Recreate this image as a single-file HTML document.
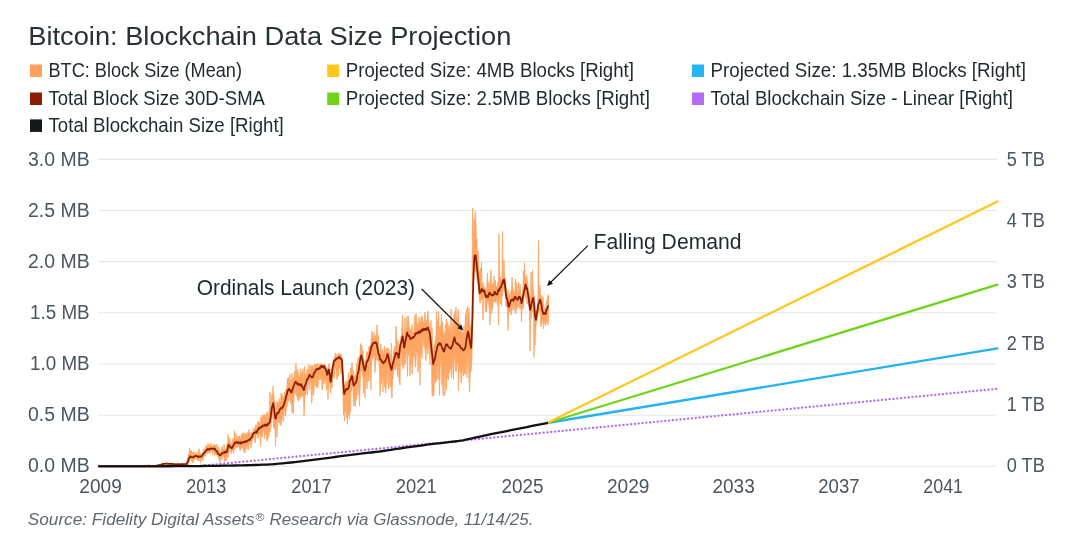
<!DOCTYPE html><html><head><meta charset="utf-8"><title>Bitcoin: Blockchain Data Size Projection</title>
<style>html,body{margin:0;padding:0;background:#fff}svg{display:block;will-change:transform}text{font-family:"Liberation Sans",sans-serif}</style></head><body>
<svg width="1080" height="544" viewBox="0 0 1080 544">
<rect width="1080" height="544" fill="#fff"/>
<text x="28.3" y="45.2" font-size="26.6" fill="#273237" textLength="483" lengthAdjust="spacingAndGlyphs">Bitcoin: Blockchain Data Size Projection</text>
<rect x="30" y="64.5" width="12" height="12.5" fill="#ffa15c"/>
<text x="48.5" y="76.8" font-size="19.3" fill="#1f2a2e" textLength="193.5" lengthAdjust="spacingAndGlyphs">BTC: Block Size (Mean)</text>
<rect x="30" y="92.5" width="12" height="12.5" fill="#8c1d04"/>
<text x="48.5" y="104.8" font-size="19.3" fill="#1f2a2e" textLength="216.5" lengthAdjust="spacingAndGlyphs">Total Block Size 30D-SMA</text>
<rect x="30" y="119.4" width="12" height="12.5" fill="#14181a"/>
<text x="48.5" y="131.9" font-size="19.3" fill="#1f2a2e" textLength="235.3" lengthAdjust="spacingAndGlyphs">Total Blockchain Size [Right]</text>
<rect x="327.2" y="64.5" width="12" height="12.5" fill="#ffc61e"/>
<text x="345.8" y="76.8" font-size="19.3" fill="#1f2a2e" textLength="288.2" lengthAdjust="spacingAndGlyphs">Projected Size: 4MB Blocks [Right]</text>
<rect x="327.2" y="92.5" width="12" height="12.5" fill="#6fd318"/>
<text x="345.8" y="104.8" font-size="19.3" fill="#1f2a2e" textLength="304.2" lengthAdjust="spacingAndGlyphs">Projected Size: 2.5MB Blocks [Right]</text>
<rect x="692" y="64.5" width="12" height="12.5" fill="#27b4f5"/>
<text x="710.5" y="76.8" font-size="19.3" fill="#1f2a2e" textLength="315.5" lengthAdjust="spacingAndGlyphs">Projected Size: 1.35MB Blocks [Right]</text>
<rect x="692" y="92.5" width="12" height="12.5" fill="#b06cf5"/>
<text x="710.5" y="104.8" font-size="19.3" fill="#1f2a2e" textLength="302.5" lengthAdjust="spacingAndGlyphs">Total Blockchain Size - Linear [Right]</text>
<line x1="98.5" x2="997" y1="159.4" y2="159.4" stroke="#e6e6e6" stroke-width="1.1"/>
<line x1="98.5" x2="997" y1="210.5" y2="210.5" stroke="#e6e6e6" stroke-width="1.1"/>
<line x1="98.5" x2="997" y1="261.6" y2="261.6" stroke="#e6e6e6" stroke-width="1.1"/>
<line x1="98.5" x2="997" y1="312.8" y2="312.8" stroke="#e6e6e6" stroke-width="1.1"/>
<line x1="98.5" x2="997" y1="364.0" y2="364.0" stroke="#e6e6e6" stroke-width="1.1"/>
<line x1="98.5" x2="997" y1="415.2" y2="415.2" stroke="#e6e6e6" stroke-width="1.1"/>
<line x1="98.5" x2="997" y1="466.2" y2="466.2" stroke="#e6e6e6" stroke-width="1.1"/>
<text x="28" y="165.6" font-size="19.9" fill="#4a5560" textLength="61.6" lengthAdjust="spacingAndGlyphs">3.0 MB</text>
<text x="28" y="216.7" font-size="19.9" fill="#4a5560" textLength="61.6" lengthAdjust="spacingAndGlyphs">2.5 MB</text>
<text x="28" y="267.8" font-size="19.9" fill="#4a5560" textLength="61.6" lengthAdjust="spacingAndGlyphs">2.0 MB</text>
<text x="30.0" y="319.0" font-size="19.9" fill="#4a5560" textLength="59.6" lengthAdjust="spacingAndGlyphs">1.5 MB</text>
<text x="30.0" y="370.2" font-size="19.9" fill="#4a5560" textLength="59.6" lengthAdjust="spacingAndGlyphs">1.0 MB</text>
<text x="28" y="421.4" font-size="19.9" fill="#4a5560" textLength="61.6" lengthAdjust="spacingAndGlyphs">0.5 MB</text>
<text x="28" y="472.4" font-size="19.9" fill="#4a5560" textLength="61.6" lengthAdjust="spacingAndGlyphs">0.0 MB</text>
<text x="1006.8" y="165.6" font-size="19.9" fill="#4a5560" textLength="38" lengthAdjust="spacingAndGlyphs">5 TB</text>
<text x="1006.8" y="227.0" font-size="19.9" fill="#4a5560" textLength="38" lengthAdjust="spacingAndGlyphs">4 TB</text>
<text x="1006.8" y="288.3" font-size="19.9" fill="#4a5560" textLength="38" lengthAdjust="spacingAndGlyphs">3 TB</text>
<text x="1006.8" y="349.7" font-size="19.9" fill="#4a5560" textLength="38" lengthAdjust="spacingAndGlyphs">2 TB</text>
<text x="1006.8" y="411.0" font-size="19.9" fill="#4a5560" textLength="38" lengthAdjust="spacingAndGlyphs">1 TB</text>
<text x="1006.8" y="472.4" font-size="19.9" fill="#4a5560" textLength="38" lengthAdjust="spacingAndGlyphs">0 TB</text>
<text x="79.3" y="493.1" font-size="19.9" fill="#4a5560" textLength="42.5" lengthAdjust="spacingAndGlyphs">2009</text>
<text x="186.3" y="493.1" font-size="19.9" fill="#4a5560" textLength="40.0" lengthAdjust="spacingAndGlyphs">2013</text>
<text x="291.3" y="493.1" font-size="19.9" fill="#4a5560" textLength="40.4" lengthAdjust="spacingAndGlyphs">2017</text>
<text x="395.8" y="493.1" font-size="19.9" fill="#4a5560" textLength="40.9" lengthAdjust="spacingAndGlyphs">2021</text>
<text x="501.5" y="493.1" font-size="19.9" fill="#4a5560" textLength="42.0" lengthAdjust="spacingAndGlyphs">2025</text>
<text x="607" y="493.1" font-size="19.9" fill="#4a5560" textLength="42.5" lengthAdjust="spacingAndGlyphs">2029</text>
<text x="712.5" y="493.1" font-size="19.9" fill="#4a5560" textLength="42.2" lengthAdjust="spacingAndGlyphs">2033</text>
<text x="818.3" y="493.1" font-size="19.9" fill="#4a5560" textLength="41.2" lengthAdjust="spacingAndGlyphs">2037</text>
<text x="923.3" y="493.1" font-size="19.9" fill="#4a5560" textLength="39.7" lengthAdjust="spacingAndGlyphs">2041</text>
<path d="M99.0,466.2 L99.5,466.2 L100.0,466.2 L100.5,466.2 L101.0,466.2 L101.5,466.2 L102.0,466.2 L102.5,466.2 L103.0,466.2 L103.5,466.2 L104.0,466.2 L104.5,466.2 L105.0,466.2 L105.5,466.2 L106.0,466.2 L106.5,466.2 L107.0,466.2 L107.5,466.2 L108.0,466.2 L108.5,466.2 L109.0,466.2 L109.5,466.2 L110.0,466.2 L110.5,466.2 L111.0,466.2 L111.5,466.2 L112.0,466.2 L112.5,466.2 L113.0,466.2 L113.5,466.2 L114.0,466.2 L114.5,466.2 L115.0,466.2 L115.5,466.2 L116.0,466.2 L116.5,466.2 L117.0,466.2 L117.5,466.2 L118.0,466.2 L118.5,466.2 L119.0,466.2 L119.5,466.2 L120.0,466.2 L120.5,466.2 L121.0,466.2 L121.5,466.2 L122.0,466.2 L122.5,466.2 L123.0,466.2 L123.5,466.2 L124.0,466.2 L124.5,466.2 L125.0,466.2 L125.5,466.2 L126.0,466.2 L126.5,466.2 L127.0,466.2 L127.5,466.2 L128.0,466.2 L128.5,466.2 L129.0,466.2 L129.5,466.2 L130.0,466.2 L130.5,466.2 L131.0,466.2 L131.5,466.2 L132.0,466.2 L132.5,466.2 L133.0,466.2 L133.5,466.2 L134.0,466.2 L134.5,466.2 L135.0,466.2 L135.5,466.2 L136.0,466.2 L136.5,466.2 L137.0,466.2 L137.5,466.2 L138.0,466.2 L138.5,466.2 L139.0,466.2 L139.5,466.2 L140.0,466.2 L140.5,466.2 L141.0,466.2 L141.5,466.2 L142.0,466.2 L142.5,466.2 L143.0,466.2 L143.5,466.2 L144.0,466.2 L144.5,466.2 L145.0,466.1 L145.5,466.2 L146.0,466.2 L146.5,466.2 L147.0,466.1 L147.5,466.2 L148.0,466.2 L148.5,464.0 L149.0,466.1 L149.5,466.0 L150.0,466.0 L150.5,466.2 L151.0,465.7 L151.5,466.0 L152.0,466.1 L152.5,466.0 L153.0,465.9 L153.5,465.7 L154.0,465.8 L154.5,465.6 L155.0,465.6 L155.5,465.6 L156.0,465.5 L156.5,465.5 L157.0,465.2 L157.5,465.2 L158.0,465.1 L158.5,465.1 L159.0,464.9 L159.5,464.8 L160.0,464.6 L160.5,464.7 L161.0,464.4 L161.5,464.1 L162.0,464.1 L162.5,463.8 L163.0,463.8 L163.5,463.4 L164.0,463.7 L164.5,463.7 L165.0,463.1 L165.5,463.5 L166.0,463.6 L166.5,463.4 L167.0,463.1 L167.5,463.4 L168.0,463.3 L168.5,463.5 L169.0,463.6 L169.5,463.3 L170.0,463.6 L170.5,463.4 L171.0,463.4 L171.5,463.3 L172.0,463.4 L172.5,463.7 L173.0,463.7 L173.5,463.9 L174.0,464.0 L174.5,464.1 L175.0,464.2 L175.5,464.2 L176.0,464.2 L176.5,463.8 L177.0,463.6 L177.5,463.7 L178.0,463.7 L178.5,463.9 L179.0,463.6 L179.5,464.0 L180.0,464.1 L180.5,464.0 L181.0,463.9 L181.5,464.1 L182.0,464.1 L182.5,464.0 L183.0,463.9 L183.5,463.9 L184.0,463.6 L184.5,463.7 L185.0,463.0 L185.5,463.9 L186.0,463.7 L186.5,463.6 L187.0,461.3 L187.5,458.6 L188.0,456.6 L188.5,454.1 L189.0,456.3 L189.5,447.9 L190.0,454.9 L190.5,450.4 L191.0,453.6 L191.5,450.5 L192.0,453.0 L192.5,455.5 L193.0,452.2 L193.5,454.2 L194.0,451.2 L194.5,454.6 L195.0,454.0 L195.5,453.0 L196.0,453.1 L196.5,452.2 L197.0,454.5 L197.5,453.6 L198.0,454.6 L198.5,450.2 L199.0,448.9 L199.5,452.2 L200.0,454.9 L200.5,453.1 L201.0,455.2 L201.5,454.4 L202.0,454.0 L202.5,453.4 L203.0,451.5 L203.5,451.0 L204.0,448.5 L204.5,449.0 L205.0,450.1 L205.5,449.6 L206.0,445.5 L206.5,445.5 L207.0,446.0 L207.5,447.6 L208.0,443.2 L208.5,444.7 L209.0,447.5 L209.5,445.6 L210.0,444.5 L210.5,446.4 L211.0,443.1 L211.5,446.0 L212.0,446.6 L212.5,445.7 L213.0,446.5 L213.5,444.7 L214.0,444.8 L214.5,444.3 L215.0,446.1 L215.5,444.9 L216.0,447.0 L216.5,449.0 L217.0,443.9 L217.5,449.6 L218.0,447.6 L218.5,447.2 L219.0,449.4 L219.5,449.5 L220.0,452.8 L220.5,451.8 L221.0,451.7 L221.5,449.6 L222.0,446.4 L222.5,449.9 L223.0,449.4 L223.5,449.5 L224.0,444.5 L224.5,447.9 L225.0,449.6 L225.5,450.6 L226.0,448.8 L226.5,447.3 L227.0,443.5 L227.5,444.1 L228.0,434.5 L228.5,441.3 L229.0,441.6 L229.5,441.0 L230.0,438.2 L230.5,444.7 L231.0,443.7 L231.5,443.2 L232.0,443.6 L232.5,441.6 L233.0,438.3 L233.5,441.2 L234.0,439.4 L234.5,430.5 L235.0,439.8 L235.5,438.3 L236.0,433.6 L236.5,438.7 L237.0,440.2 L237.5,437.3 L238.0,436.1 L238.5,436.9 L239.0,439.8 L239.5,436.2 L240.0,436.2 L240.5,439.2 L241.0,438.6 L241.5,433.6 L242.0,435.1 L242.5,436.5 L243.0,432.6 L243.5,436.5 L244.0,432.9 L244.5,438.7 L245.0,434.5 L245.5,433.4 L246.0,433.4 L246.5,438.8 L247.0,432.2 L247.5,433.8 L248.0,434.6 L248.5,430.5 L249.0,429.4 L249.5,436.2 L250.0,432.9 L250.5,434.1 L251.0,435.6 L251.5,432.5 L252.0,433.0 L252.5,432.9 L253.0,432.4 L253.5,428.7 L254.0,429.7 L254.5,429.1 L255.0,427.4 L255.5,428.0 L256.0,424.4 L256.5,427.9 L257.0,428.4 L257.5,423.5 L258.0,421.6 L258.5,421.3 L259.0,426.0 L259.5,422.2 L260.0,424.2 L260.5,421.8 L261.0,417.0 L261.5,423.3 L262.0,415.1 L262.5,416.3 L263.0,421.0 L263.5,414.7 L264.0,419.2 L264.5,415.5 L265.0,414.2 L265.5,415.1 L266.0,417.6 L266.5,421.1 L267.0,411.7 L267.5,416.9 L268.0,419.1 L268.5,414.2 L269.0,411.8 L269.5,410.5 L270.0,392.0 L270.5,411.6 L271.0,407.1 L271.5,400.3 L272.0,393.7 L272.5,402.2 L273.0,386.0 L273.5,392.9 L274.0,396.7 L274.5,404.9 L275.0,401.4 L275.5,414.0 L276.0,414.3 L276.5,405.6 L277.0,401.8 L277.5,403.5 L278.0,402.8 L278.5,405.9 L279.0,398.6 L279.5,405.8 L280.0,402.4 L280.5,404.7 L281.0,392.9 L281.5,395.7 L282.0,394.7 L282.5,396.3 L283.0,397.1 L283.5,396.7 L284.0,397.9 L284.5,392.0 L285.0,396.7 L285.5,389.4 L286.0,392.1 L286.5,391.1 L287.0,385.2 L287.5,378.1 L288.0,385.4 L288.5,377.5 L289.0,383.8 L289.5,381.7 L290.0,374.4 L290.5,385.8 L291.0,386.8 L291.5,385.1 L292.0,373.0 L292.5,380.4 L293.0,379.3 L293.5,377.8 L294.0,379.0 L294.5,371.3 L295.0,378.3 L295.5,371.5 L296.0,363.7 L296.5,375.3 L297.0,375.0 L297.5,369.1 L298.0,371.9 L298.5,376.5 L299.0,375.5 L299.5,377.0 L300.0,379.2 L300.5,368.7 L301.0,374.1 L301.5,376.3 L302.0,372.2 L302.5,371.2 L303.0,368.7 L303.5,378.8 L304.0,377.2 L304.5,366.5 L305.0,381.2 L305.5,374.2 L306.0,373.6 L306.5,377.8 L307.0,368.9 L307.5,374.1 L308.0,374.4 L308.5,371.8 L309.0,364.5 L309.5,368.4 L310.0,370.1 L310.5,372.1 L311.0,365.0 L311.5,369.8 L312.0,366.4 L312.5,365.0 L313.0,366.8 L313.5,368.8 L314.0,369.2 L314.5,364.0 L315.0,364.9 L315.5,363.9 L316.0,364.9 L316.5,365.3 L317.0,364.2 L317.5,363.7 L318.0,365.7 L318.5,364.2 L319.0,364.1 L319.5,364.3 L320.0,364.2 L320.5,363.9 L321.0,363.6 L321.5,364.2 L322.0,364.9 L322.5,364.0 L323.0,365.0 L323.5,364.9 L324.0,364.7 L324.5,364.2 L325.0,366.1 L325.5,365.7 L326.0,367.3 L326.5,370.4 L327.0,371.0 L327.5,367.6 L328.0,367.5 L328.5,365.4 L329.0,363.6 L329.5,367.9 L330.0,371.4 L330.5,373.8 L331.0,380.0 L331.5,369.3 L332.0,369.7 L332.5,365.8 L333.0,361.8 L333.5,361.5 L334.0,358.9 L334.5,356.3 L335.0,357.6 L335.5,352.9 L336.0,356.5 L336.5,354.6 L337.0,356.9 L337.5,356.5 L338.0,355.3 L338.5,353.1 L339.0,356.4 L339.5,353.1 L340.0,355.1 L340.5,356.8 L341.0,353.8 L341.5,356.9 L342.0,357.8 L342.5,366.4 L343.0,375.5 L343.5,383.1 L344.0,384.9 L344.5,387.5 L345.0,384.5 L345.5,385.5 L346.0,381.1 L346.5,386.1 L347.0,380.5 L347.5,382.4 L348.0,383.2 L348.5,372.7 L349.0,381.5 L349.5,379.2 L350.0,374.8 L350.5,367.9 L351.0,375.1 L351.5,369.2 L352.0,362.6 L352.5,371.0 L353.0,370.8 L353.5,372.7 L354.0,377.6 L354.5,377.3 L355.0,375.1 L355.5,379.2 L356.0,375.3 L356.5,363.3 L357.0,374.3 L357.5,369.1 L358.0,357.3 L358.5,366.1 L359.0,362.1 L359.5,355.3 L360.0,356.9 L360.5,343.5 L361.0,350.3 L361.5,344.9 L362.0,347.0 L362.5,356.6 L363.0,350.9 L363.5,360.9 L364.0,360.9 L364.5,360.8 L365.0,365.8 L365.5,364.0 L366.0,359.0 L366.5,351.6 L367.0,352.2 L367.5,354.7 L368.0,352.3 L368.5,350.8 L369.0,346.4 L369.5,349.8 L370.0,346.1 L370.5,346.3 L371.0,341.4 L371.5,336.4 L372.0,331.3 L372.5,337.6 L373.0,337.2 L373.5,335.7 L374.0,332.4 L374.5,337.5 L375.0,338.7 L375.5,335.0 L376.0,338.4 L376.5,334.3 L377.0,324.8 L377.5,336.5 L378.0,344.0 L378.5,335.4 L379.0,349.6 L379.5,352.7 L380.0,352.8 L380.5,348.1 L381.0,343.8 L381.5,356.9 L382.0,355.9 L382.5,349.1 L383.0,355.0 L383.5,354.2 L384.0,351.9 L384.5,346.0 L385.0,348.3 L385.5,356.3 L386.0,354.6 L386.5,348.6 L387.0,347.9 L387.5,348.3 L388.0,347.8 L388.5,354.6 L389.0,354.0 L389.5,349.3 L390.0,353.7 L390.5,355.7 L391.0,362.4 L391.5,343.0 L392.0,362.6 L392.5,361.0 L393.0,359.2 L393.5,351.2 L394.0,351.4 L394.5,347.2 L395.0,346.6 L395.5,351.4 L396.0,326.0 L396.5,337.5 L397.0,339.6 L397.5,346.8 L398.0,341.3 L398.5,352.4 L399.0,350.4 L399.5,348.0 L400.0,343.1 L400.5,340.2 L401.0,336.7 L401.5,334.9 L402.0,324.0 L402.5,314.8 L403.0,328.9 L403.5,336.0 L404.0,341.2 L404.5,338.8 L405.0,318.0 L405.5,336.2 L406.0,328.9 L406.5,326.2 L407.0,315.9 L407.5,327.8 L408.0,327.2 L408.5,316.1 L409.0,326.1 L409.5,327.4 L410.0,333.3 L410.5,329.5 L411.0,334.7 L411.5,329.7 L412.0,324.5 L412.5,332.0 L413.0,333.3 L413.5,333.1 L414.0,331.2 L414.5,319.2 L415.0,315.0 L415.5,328.1 L416.0,313.5 L416.5,318.8 L417.0,324.4 L417.5,324.0 L418.0,323.5 L418.5,327.9 L419.0,317.3 L419.5,323.2 L420.0,321.6 L420.5,325.2 L421.0,318.3 L421.5,315.7 L422.0,321.7 L422.5,317.2 L423.0,321.6 L423.5,321.8 L424.0,322.5 L424.5,321.5 L425.0,312.0 L425.5,324.6 L426.0,321.2 L426.5,320.3 L427.0,324.2 L427.5,312.1 L428.0,311.1 L428.5,320.4 L429.0,322.8 L429.5,326.5 L430.0,331.4 L430.5,333.4 L431.0,320.3 L431.5,338.7 L432.0,328.3 L432.5,339.7 L433.0,350.5 L433.5,351.5 L434.0,346.2 L434.5,344.6 L435.0,343.2 L435.5,339.6 L436.0,334.7 L436.5,311.0 L437.0,332.2 L437.5,320.5 L438.0,323.6 L438.5,311.4 L439.0,325.7 L439.5,327.2 L440.0,327.6 L440.5,325.2 L441.0,330.9 L441.5,314.2 L442.0,327.6 L442.5,322.0 L443.0,329.8 L443.5,331.4 L444.0,338.5 L444.5,333.1 L445.0,334.4 L445.5,324.5 L446.0,326.9 L446.5,319.0 L447.0,323.3 L447.5,322.4 L448.0,328.1 L448.5,332.1 L449.0,324.8 L449.5,330.0 L450.0,332.7 L450.5,330.9 L451.0,308.9 L451.5,316.8 L452.0,333.3 L452.5,332.6 L453.0,321.6 L453.5,326.8 L454.0,314.0 L454.5,321.6 L455.0,311.0 L455.5,326.9 L456.0,307.3 L456.5,327.6 L457.0,317.2 L457.5,320.4 L458.0,309.6 L458.5,311.0 L459.0,323.0 L459.5,325.0 L460.0,322.8 L460.5,328.5 L461.0,331.2 L461.5,329.9 L462.0,334.8 L462.5,333.8 L463.0,331.6 L463.5,337.3 L464.0,325.3 L464.5,336.5 L465.0,332.9 L465.5,314.2 L466.0,325.3 L466.5,308.9 L467.0,310.0 L467.5,306.0 L468.0,319.2 L468.5,319.5 L469.0,308.0 L469.5,321.0 L470.0,328.2 L470.5,325.5 L471.0,334.4 L471.5,328.3 L472.0,317.4 L472.5,207.9 L473.0,222.0 L473.5,253.2 L474.0,219.7 L474.5,224.2 L475.0,214.6 L475.5,211.5 L476.0,225.5 L476.5,247.7 L477.0,239.0 L477.5,263.0 L478.0,250.0 L478.5,258.0 L479.0,276.6 L479.5,270.9 L480.0,284.7 L480.5,268.2 L481.0,277.9 L481.5,262.0 L482.0,283.3 L482.5,282.7 L483.0,282.6 L483.5,287.7 L484.0,287.2 L484.5,286.8 L485.0,287.5 L485.5,290.2 L486.0,290.0 L486.5,290.9 L487.0,283.0 L487.5,273.0 L488.0,292.9 L488.5,282.4 L489.0,286.6 L489.5,290.2 L490.0,281.5 L490.5,278.3 L491.0,270.0 L491.5,291.1 L492.0,283.5 L492.5,291.3 L493.0,283.8 L493.5,287.3 L494.0,276.0 L494.5,286.6 L495.0,287.7 L495.5,280.3 L496.0,289.1 L496.5,286.5 L497.0,288.1 L497.5,285.9 L498.0,281.8 L498.5,283.6 L499.0,234.0 L499.5,282.9 L500.0,276.6 L500.5,277.2 L501.0,283.5 L501.5,280.9 L502.0,278.6 L502.5,231.2 L503.0,276.9 L503.5,275.8 L504.0,260.0 L504.5,277.5 L505.0,277.6 L505.5,278.5 L506.0,287.8 L506.5,287.5 L507.0,294.3 L507.5,293.6 L508.0,289.7 L508.5,297.5 L509.0,302.3 L509.5,293.6 L510.0,297.9 L510.5,298.3 L511.0,290.4 L511.5,293.6 L512.0,277.0 L512.5,284.9 L513.0,289.1 L513.5,290.8 L514.0,292.1 L514.5,292.9 L515.0,291.7 L515.5,279.0 L516.0,293.0 L516.5,282.7 L517.0,286.6 L517.5,295.0 L518.0,295.7 L518.5,282.0 L519.0,293.2 L519.5,292.7 L520.0,283.5 L520.5,292.8 L521.0,297.2 L521.5,296.2 L522.0,297.1 L522.5,291.5 L523.0,287.6 L523.5,270.8 L524.0,283.1 L524.5,262.5 L525.0,279.4 L525.5,277.0 L526.0,278.5 L526.5,274.8 L527.0,277.6 L527.5,282.2 L528.0,285.8 L528.5,292.6 L529.0,292.0 L529.5,295.4 L530.0,301.5 L530.5,303.9 L531.0,272.0 L531.5,292.4 L532.0,296.2 L532.5,270.0 L533.0,289.8 L533.5,288.9 L534.0,298.0 L534.5,296.2 L535.0,303.0 L535.5,313.7 L536.0,308.5 L536.5,310.6 L537.0,308.7 L537.5,305.0 L538.0,294.7 L538.5,240.6 L539.0,286.7 L539.5,292.5 L540.0,285.0 L540.5,296.4 L541.0,298.1 L541.5,295.1 L542.0,300.5 L542.5,304.5 L543.0,296.7 L543.5,307.1 L544.0,307.0 L544.5,308.9 L545.0,309.1 L545.5,308.8 L546.0,306.5 L546.5,300.2 L547.0,304.2 L547.5,296.8 L548.0,296.8 L548.5,294.2 L548.5,314.7 L548.0,325.3 L547.5,312.9 L547.0,322.7 L546.5,323.0 L546.0,319.8 L545.5,326.0 L545.0,324.6 L544.5,318.4 L544.0,322.1 L543.5,328.9 L543.0,320.6 L542.5,316.3 L542.0,324.2 L541.5,312.9 L541.0,327.0 L540.5,317.8 L540.0,309.1 L539.5,310.1 L539.0,308.8 L538.5,312.8 L538.0,314.5 L537.5,314.2 L537.0,320.8 L536.5,321.4 L536.0,326.5 L535.5,330.9 L535.0,345.0 L534.5,314.0 L534.0,357.4 L533.5,309.0 L533.0,312.6 L532.5,304.0 L532.0,305.2 L531.5,318.5 L531.0,318.7 L530.5,321.0 L530.0,351.0 L529.5,309.8 L529.0,307.5 L528.5,301.7 L528.0,303.1 L527.5,297.8 L527.0,303.8 L526.5,291.7 L526.0,298.4 L525.5,294.2 L525.0,295.0 L524.5,295.8 L524.0,295.2 L523.5,305.0 L523.0,308.5 L522.5,303.0 L522.0,309.2 L521.5,322.0 L521.0,306.5 L520.5,303.8 L520.0,309.1 L519.5,304.6 L519.0,301.0 L518.5,307.1 L518.0,302.6 L517.5,306.5 L517.0,309.2 L516.5,303.3 L516.0,313.0 L515.5,313.6 L515.0,311.2 L514.5,304.6 L514.0,303.4 L513.5,309.7 L513.0,310.3 L512.5,306.8 L512.0,306.7 L511.5,315.2 L511.0,313.0 L510.5,307.8 L510.0,311.9 L509.5,309.8 L509.0,312.7 L508.5,315.6 L508.0,330.8 L507.5,311.3 L507.0,303.3 L506.5,300.2 L506.0,306.6 L505.5,294.6 L505.0,292.4 L504.5,289.2 L504.0,288.4 L503.5,287.8 L503.0,288.9 L502.5,296.3 L502.0,292.6 L501.5,305.7 L501.0,290.0 L500.5,303.9 L500.0,299.6 L499.5,298.5 L499.0,298.9 L498.5,325.0 L498.0,297.3 L497.5,305.4 L497.0,297.6 L496.5,297.8 L496.0,302.7 L495.5,300.2 L495.0,302.3 L494.5,301.4 L494.0,300.4 L493.5,300.6 L493.0,303.8 L492.5,309.1 L492.0,310.5 L491.5,313.7 L491.0,306.2 L490.5,299.9 L490.0,325.0 L489.5,310.4 L489.0,306.7 L488.5,299.9 L488.0,303.7 L487.5,302.5 L487.0,300.7 L486.5,311.9 L486.0,299.3 L485.5,311.9 L485.0,297.4 L484.5,298.1 L484.0,296.6 L483.5,296.1 L483.0,320.0 L482.5,301.7 L482.0,296.2 L481.5,299.9 L481.0,295.4 L480.5,303.2 L480.0,302.6 L479.5,301.0 L479.0,292.3 L478.5,290.4 L478.0,280.5 L477.5,283.4 L477.0,278.5 L476.5,273.1 L476.0,265.8 L475.5,271.2 L475.0,262.8 L474.5,267.1 L474.0,274.0 L473.5,282.5 L473.0,303.1 L472.5,325.4 L472.0,357.0 L471.5,366.2 L471.0,371.6 L470.5,365.6 L470.0,380.2 L469.5,392.0 L469.0,379.8 L468.5,356.7 L468.0,354.1 L467.5,357.3 L467.0,377.8 L466.5,362.0 L466.0,361.7 L465.5,373.9 L465.0,372.8 L464.5,373.8 L464.0,367.8 L463.5,376.0 L463.0,373.4 L462.5,372.2 L462.0,366.2 L461.5,382.8 L461.0,383.0 L460.5,368.1 L460.0,373.0 L459.5,363.8 L459.0,372.3 L458.5,390.6 L458.0,363.7 L457.5,363.8 L457.0,363.3 L456.5,371.3 L456.0,370.2 L455.5,371.3 L455.0,359.1 L454.5,355.9 L454.0,356.8 L453.5,379.5 L453.0,372.6 L452.5,362.6 L452.0,364.3 L451.5,377.8 L451.0,368.0 L450.5,369.0 L450.0,367.0 L449.5,372.8 L449.0,366.3 L448.5,380.1 L448.0,363.6 L447.5,379.1 L447.0,368.6 L446.5,389.4 L446.0,367.1 L445.5,364.5 L445.0,395.4 L444.5,368.4 L444.0,376.0 L443.5,395.0 L443.0,396.0 L442.5,369.0 L442.0,385.3 L441.5,367.1 L441.0,365.1 L440.5,359.4 L440.0,369.9 L439.5,395.4 L439.0,373.1 L438.5,379.4 L438.0,364.6 L437.5,367.5 L437.0,379.0 L436.5,381.0 L436.0,380.8 L435.5,382.8 L435.0,378.2 L434.5,378.0 L434.0,391.8 L433.5,396.0 L433.0,393.8 L432.5,396.0 L432.0,396.0 L431.5,361.4 L431.0,354.9 L430.5,350.0 L430.0,364.7 L429.5,348.5 L429.0,348.9 L428.5,337.2 L428.0,354.5 L427.5,342.7 L427.0,349.2 L426.5,342.1 L426.0,360.7 L425.5,353.2 L425.0,349.1 L424.5,343.6 L424.0,346.6 L423.5,342.7 L423.0,339.5 L422.5,338.5 L422.0,358.4 L421.5,343.2 L421.0,354.9 L420.5,344.1 L420.0,385.3 L419.5,354.1 L419.0,339.9 L418.5,361.1 L418.0,372.0 L417.5,342.3 L417.0,352.2 L416.5,350.1 L416.0,360.6 L415.5,367.1 L415.0,360.8 L414.5,342.7 L414.0,356.3 L413.5,353.8 L413.0,360.5 L412.5,368.3 L412.0,373.8 L411.5,347.5 L411.0,364.2 L410.5,358.4 L410.0,376.0 L409.5,349.4 L409.0,347.5 L408.5,355.9 L408.0,348.8 L407.5,376.4 L407.0,359.3 L406.5,347.2 L406.0,350.9 L405.5,363.9 L405.0,352.6 L404.5,358.8 L404.0,366.4 L403.5,355.9 L403.0,369.3 L402.5,346.4 L402.0,365.4 L401.5,355.8 L401.0,351.5 L400.5,355.5 L400.0,385.0 L399.5,382.0 L399.0,381.1 L398.5,367.7 L398.0,366.9 L397.5,376.7 L397.0,361.9 L396.5,366.2 L396.0,369.4 L395.5,368.8 L395.0,370.4 L394.5,365.4 L394.0,368.4 L393.5,368.9 L393.0,378.6 L392.5,379.9 L392.0,398.0 L391.5,391.4 L391.0,381.8 L390.5,386.9 L390.0,376.7 L389.5,377.3 L389.0,387.0 L388.5,389.2 L388.0,367.9 L387.5,366.1 L387.0,383.9 L386.5,367.6 L386.0,392.0 L385.5,393.0 L385.0,380.5 L384.5,387.1 L384.0,377.2 L383.5,376.6 L383.0,391.7 L382.5,370.9 L382.0,379.0 L381.5,383.7 L381.0,372.5 L380.5,384.6 L380.0,396.0 L379.5,371.5 L379.0,361.2 L378.5,361.4 L378.0,360.6 L377.5,359.7 L377.0,360.2 L376.5,351.6 L376.0,362.0 L375.5,363.0 L375.0,372.5 L374.5,351.4 L374.0,355.9 L373.5,353.8 L373.0,358.9 L372.5,357.7 L372.0,357.3 L371.5,364.3 L371.0,390.0 L370.5,371.6 L370.0,361.8 L369.5,368.9 L369.0,380.9 L368.5,372.4 L368.0,381.7 L367.5,367.1 L367.0,388.9 L366.5,376.5 L366.0,377.3 L365.5,380.6 L365.0,398.0 L364.5,383.8 L364.0,373.9 L363.5,393.5 L363.0,371.2 L362.5,376.6 L362.0,366.0 L361.5,371.6 L361.0,367.1 L360.5,374.8 L360.0,389.3 L359.5,405.5 L359.0,391.0 L358.5,380.5 L358.0,395.4 L357.5,383.5 L357.0,385.7 L356.5,399.3 L356.0,397.8 L355.5,404.2 L355.0,407.0 L354.5,393.1 L354.0,401.6 L353.5,405.8 L353.0,388.7 L352.5,386.0 L352.0,386.0 L351.5,391.2 L351.0,389.8 L350.5,412.0 L350.0,408.5 L349.5,418.6 L349.0,404.8 L348.5,415.0 L348.0,409.3 L347.5,424.3 L347.0,412.8 L346.5,418.0 L346.0,402.7 L345.5,411.8 L345.0,409.2 L344.5,421.0 L344.0,408.3 L343.5,414.8 L343.0,397.1 L342.5,386.1 L342.0,374.2 L341.5,370.0 L341.0,373.7 L340.5,371.6 L340.0,366.9 L339.5,367.7 L339.0,367.3 L338.5,375.7 L338.0,376.6 L337.5,365.5 L337.0,379.8 L336.5,373.2 L336.0,367.4 L335.5,368.2 L335.0,366.3 L334.5,378.0 L334.0,372.0 L333.5,377.8 L333.0,375.2 L332.5,379.8 L332.0,387.8 L331.5,384.4 L331.0,387.0 L330.5,393.5 L330.0,382.2 L329.5,381.8 L329.0,384.2 L328.5,383.8 L328.0,399.3 L327.5,382.4 L327.0,381.5 L326.5,389.6 L326.0,383.3 L325.5,379.0 L325.0,379.2 L324.5,379.8 L324.0,384.0 L323.5,380.7 L323.0,374.9 L322.5,389.6 L322.0,390.1 L321.5,373.8 L321.0,378.9 L320.5,379.7 L320.0,376.2 L319.5,379.0 L319.0,380.1 L318.5,374.3 L318.0,388.3 L317.5,377.5 L317.0,386.5 L316.5,387.4 L316.0,379.0 L315.5,381.1 L315.0,386.4 L314.5,377.3 L314.0,391.0 L313.5,395.5 L313.0,384.7 L312.5,387.0 L312.0,402.0 L311.5,403.1 L311.0,382.6 L310.5,380.4 L310.0,380.9 L309.5,390.3 L309.0,384.4 L308.5,381.6 L308.0,384.5 L307.5,395.0 L307.0,393.7 L306.5,386.9 L306.0,392.6 L305.5,395.4 L305.0,391.3 L304.5,408.1 L304.0,416.4 L303.5,395.6 L303.0,395.0 L302.5,396.4 L302.0,396.3 L301.5,391.2 L301.0,397.5 L300.5,392.1 L300.0,398.8 L299.5,391.3 L299.0,399.6 L298.5,401.3 L298.0,394.5 L297.5,400.1 L297.0,392.4 L296.5,395.9 L296.0,389.0 L295.5,391.6 L295.0,394.9 L294.5,393.0 L294.0,392.3 L293.5,413.6 L293.0,413.3 L292.5,396.2 L292.0,412.6 L291.5,400.2 L291.0,404.2 L290.5,400.1 L290.0,398.2 L289.5,396.6 L289.0,400.9 L288.5,401.4 L288.0,401.5 L287.5,401.6 L287.0,406.8 L286.5,400.4 L286.0,412.9 L285.5,416.2 L285.0,412.4 L284.5,408.4 L284.0,412.2 L283.5,421.6 L283.0,413.5 L282.5,415.2 L282.0,419.4 L281.5,421.0 L281.0,425.6 L280.5,417.5 L280.0,425.1 L279.5,419.3 L279.0,417.4 L278.5,422.7 L278.0,419.8 L277.5,418.6 L277.0,436.9 L276.5,419.9 L276.0,427.9 L275.5,446.1 L275.0,423.0 L274.5,428.7 L274.0,414.6 L273.5,427.6 L273.0,415.8 L272.5,414.3 L272.0,418.4 L271.5,417.0 L271.0,427.1 L270.5,425.1 L270.0,431.8 L269.5,426.0 L269.0,435.5 L268.5,433.8 L268.0,438.7 L267.5,432.4 L267.0,441.5 L266.5,433.8 L266.0,434.5 L265.5,434.3 L265.0,430.1 L264.5,438.8 L264.0,431.1 L263.5,430.6 L263.0,429.8 L262.5,434.9 L262.0,437.5 L261.5,431.3 L261.0,436.6 L260.5,446.2 L260.0,430.5 L259.5,434.2 L259.0,433.0 L258.5,436.1 L258.0,438.3 L257.5,434.7 L257.0,435.1 L256.5,434.8 L256.0,435.4 L255.5,442.5 L255.0,443.0 L254.5,436.7 L254.0,437.1 L253.5,438.5 L253.0,438.5 L252.5,438.8 L252.0,441.4 L251.5,445.2 L251.0,447.9 L250.5,441.7 L250.0,443.5 L249.5,442.7 L249.0,444.6 L248.5,449.7 L248.0,443.1 L247.5,444.7 L247.0,449.6 L246.5,445.8 L246.0,445.5 L245.5,444.4 L245.0,453.1 L244.5,445.3 L244.0,452.2 L243.5,448.2 L243.0,444.6 L242.5,448.2 L242.0,446.8 L241.5,448.1 L241.0,449.5 L240.5,445.3 L240.0,450.9 L239.5,446.4 L239.0,446.7 L238.5,445.6 L238.0,446.7 L237.5,446.7 L237.0,447.8 L236.5,445.9 L236.0,446.2 L235.5,445.9 L235.0,450.3 L234.5,448.8 L234.0,446.6 L233.5,453.6 L233.0,450.3 L232.5,449.6 L232.0,449.3 L231.5,453.5 L231.0,450.6 L230.5,449.3 L230.0,452.2 L229.5,449.4 L229.0,447.9 L228.5,454.9 L228.0,457.6 L227.5,452.1 L227.0,457.1 L226.5,460.4 L226.0,455.0 L225.5,460.8 L225.0,454.4 L224.5,462.0 L224.0,455.0 L223.5,456.3 L223.0,454.9 L222.5,455.1 L222.0,459.6 L221.5,456.6 L221.0,456.8 L220.5,459.1 L220.0,462.9 L219.5,457.0 L219.0,459.7 L218.5,457.5 L218.0,457.0 L217.5,455.6 L217.0,454.3 L216.5,455.3 L216.0,452.7 L215.5,452.9 L215.0,454.6 L214.5,455.6 L214.0,452.3 L213.5,450.5 L213.0,451.6 L212.5,454.9 L212.0,450.8 L211.5,450.3 L211.0,452.0 L210.5,451.5 L210.0,453.3 L209.5,452.7 L209.0,451.3 L208.5,452.1 L208.0,453.7 L207.5,451.7 L207.0,453.7 L206.5,453.1 L206.0,452.3 L205.5,456.2 L205.0,454.6 L204.5,453.9 L204.0,456.8 L203.5,455.2 L203.0,461.0 L202.5,456.5 L202.0,458.0 L201.5,460.4 L201.0,461.0 L200.5,463.3 L200.0,458.2 L199.5,459.8 L199.0,461.1 L198.5,460.5 L198.0,460.0 L197.5,459.9 L197.0,459.0 L196.5,459.0 L196.0,458.5 L195.5,458.4 L195.0,458.1 L194.5,459.8 L194.0,460.0 L193.5,458.8 L193.0,463.2 L192.5,460.4 L192.0,461.5 L191.5,458.9 L191.0,459.6 L190.5,458.3 L190.0,460.4 L189.5,461.4 L189.0,460.1 L188.5,465.4 L188.0,464.8 L187.5,465.8 L187.0,465.8 L186.5,465.0 L186.0,464.7 L185.5,464.9 L185.0,464.7 L184.5,465.2 L184.0,465.0 L183.5,464.5 L183.0,464.5 L182.5,464.5 L182.0,464.7 L181.5,464.5 L181.0,464.7 L180.5,464.8 L180.0,464.8 L179.5,465.1 L179.0,464.6 L178.5,464.9 L178.0,464.7 L177.5,464.6 L177.0,464.8 L176.5,464.5 L176.0,464.6 L175.5,464.9 L175.0,464.7 L174.5,464.5 L174.0,464.7 L173.5,464.3 L173.0,464.3 L172.5,464.2 L172.0,464.2 L171.5,464.3 L171.0,464.3 L170.5,464.2 L170.0,464.0 L169.5,464.0 L169.0,464.0 L168.5,464.1 L168.0,464.1 L167.5,464.1 L167.0,464.0 L166.5,464.2 L166.0,464.0 L165.5,464.0 L165.0,464.3 L164.5,464.3 L164.0,464.1 L163.5,464.3 L163.0,464.4 L162.5,464.2 L162.0,464.6 L161.5,464.7 L161.0,465.1 L160.5,465.0 L160.0,465.4 L159.5,465.5 L159.0,465.3 L158.5,465.7 L158.0,465.5 L157.5,465.9 L157.0,466.0 L156.5,466.0 L156.0,466.0 L155.5,466.0 L155.0,466.0 L154.5,466.1 L154.0,466.2 L153.5,466.2 L153.0,466.2 L152.5,466.2 L152.0,466.2 L151.5,466.2 L151.0,466.2 L150.5,466.2 L150.0,466.2 L149.5,466.2 L149.0,466.2 L148.5,466.2 L148.0,466.2 L147.5,466.2 L147.0,466.2 L146.5,466.2 L146.0,466.2 L145.5,466.2 L145.0,466.2 L144.5,466.2 L144.0,466.2 L143.5,466.2 L143.0,466.2 L142.5,466.2 L142.0,466.2 L141.5,466.2 L141.0,466.2 L140.5,466.2 L140.0,466.2 L139.5,466.2 L139.0,466.2 L138.5,466.2 L138.0,466.2 L137.5,466.2 L137.0,466.2 L136.5,466.2 L136.0,466.2 L135.5,466.2 L135.0,466.2 L134.5,466.2 L134.0,466.2 L133.5,466.2 L133.0,466.2 L132.5,466.2 L132.0,466.2 L131.5,466.2 L131.0,466.2 L130.5,466.2 L130.0,466.2 L129.5,466.2 L129.0,466.2 L128.5,466.2 L128.0,466.2 L127.5,466.2 L127.0,466.2 L126.5,466.2 L126.0,466.2 L125.5,466.2 L125.0,466.2 L124.5,466.2 L124.0,466.2 L123.5,466.2 L123.0,466.2 L122.5,466.2 L122.0,466.2 L121.5,466.2 L121.0,466.2 L120.5,466.2 L120.0,466.2 L119.5,466.2 L119.0,466.2 L118.5,466.2 L118.0,466.2 L117.5,466.2 L117.0,466.2 L116.5,466.2 L116.0,466.2 L115.5,466.2 L115.0,466.2 L114.5,466.2 L114.0,466.2 L113.5,466.2 L113.0,466.2 L112.5,466.2 L112.0,466.2 L111.5,466.2 L111.0,466.2 L110.5,466.2 L110.0,466.2 L109.5,466.2 L109.0,466.2 L108.5,466.2 L108.0,466.2 L107.5,466.2 L107.0,466.2 L106.5,466.2 L106.0,466.2 L105.5,466.2 L105.0,466.2 L104.5,466.2 L104.0,466.2 L103.5,466.2 L103.0,466.2 L102.5,466.2 L102.0,466.2 L101.5,466.2 L101.0,466.2 L100.5,466.2 L100.0,466.2 L99.5,466.2 L99.0,466.2Z" fill="#fda561" stroke="#fda561" stroke-width="0.8" stroke-linejoin="round"/>
<path d="M99.00,466.20 L99.45,466.20 L99.90,466.20 L100.35,466.20 L100.80,466.20 L101.25,466.20 L101.70,466.20 L102.15,466.20 L102.60,466.20 L103.05,466.20 L103.50,466.20 L103.95,466.20 L104.40,466.20 L104.85,466.20 L105.30,466.20 L105.75,466.20 L106.20,466.20 L106.65,466.20 L107.10,466.20 L107.55,466.20 L108.00,466.20 L108.45,466.20 L108.90,466.20 L109.35,466.20 L109.80,466.20 L110.25,466.20 L110.70,466.20 L111.15,466.20 L111.60,466.20 L112.05,466.20 L112.50,466.20 L112.95,466.20 L113.40,466.20 L113.85,466.20 L114.30,466.20 L114.75,466.20 L115.20,466.20 L115.65,466.20 L116.10,466.20 L116.55,466.20 L117.00,466.20 L117.45,466.20 L117.90,466.20 L118.35,466.20 L118.80,466.20 L119.25,466.20 L119.70,466.20 L120.15,466.20 L120.60,466.20 L121.05,466.20 L121.50,466.20 L121.95,466.20 L122.40,466.20 L122.85,466.20 L123.30,466.20 L123.75,466.20 L124.20,466.20 L124.65,466.20 L125.10,466.20 L125.55,466.20 L126.00,466.20 L126.45,466.20 L126.90,466.20 L127.35,466.20 L127.80,466.20 L128.25,466.20 L128.70,466.20 L129.15,466.20 L129.60,466.20 L130.05,466.20 L130.50,466.20 L130.95,466.20 L131.40,466.20 L131.85,466.20 L132.30,466.20 L132.75,466.20 L133.20,466.20 L133.65,466.20 L134.10,466.20 L134.55,466.20 L135.00,466.20 L135.45,466.20 L135.90,466.20 L136.35,466.20 L136.80,466.20 L137.25,466.20 L137.70,466.20 L138.15,466.20 L138.60,466.20 L139.05,466.20 L139.50,466.20 L139.95,466.20 L140.40,466.20 L140.85,466.20 L141.30,466.20 L141.75,466.20 L142.20,466.20 L142.65,466.20 L143.10,466.20 L143.55,466.20 L144.00,466.20 L144.45,466.20 L144.90,466.20 L145.35,466.20 L145.80,466.20 L146.25,466.20 L146.70,466.20 L147.15,466.20 L147.60,466.20 L148.05,466.20 L148.50,466.20 L148.95,466.20 L149.40,466.20 L149.85,466.20 L150.30,466.20 L150.75,466.20 L151.20,466.20 L151.65,466.19 L152.10,466.14 L152.55,466.14 L153.00,466.04 L153.45,465.98 L153.90,465.96 L154.35,465.90 L154.80,465.84 L155.25,465.81 L155.70,465.76 L156.15,465.69 L156.60,465.63 L157.05,465.53 L157.50,465.42 L157.95,465.34 L158.40,465.26 L158.85,465.20 L159.30,465.08 L159.75,464.98 L160.20,464.91 L160.65,464.69 L161.10,464.50 L161.55,464.41 L162.00,464.23 L162.45,464.11 L162.90,464.01 L163.35,463.91 L163.80,463.85 L164.25,463.84 L164.70,463.80 L165.15,463.74 L165.60,463.74 L166.05,463.68 L166.50,463.75 L166.95,463.65 L167.40,463.76 L167.85,463.88 L168.30,463.94 L168.75,463.95 L169.20,463.70 L169.65,463.87 L170.10,463.96 L170.55,463.91 L171.00,463.73 L171.45,463.87 L171.90,464.06 L172.35,463.83 L172.80,464.07 L173.25,464.23 L173.70,464.13 L174.15,464.28 L174.60,464.18 L175.05,464.23 L175.50,464.26 L175.95,464.38 L176.40,464.39 L176.85,464.47 L177.30,464.24 L177.75,464.33 L178.20,464.50 L178.65,464.41 L179.10,464.14 L179.55,464.36 L180.00,464.26 L180.45,464.36 L180.90,464.41 L181.35,464.54 L181.80,464.30 L182.25,463.90 L182.70,463.99 L183.15,464.37 L183.60,464.33 L184.05,464.53 L184.50,464.37 L184.95,464.21 L185.40,464.46 L185.85,464.08 L186.30,463.92 L186.75,463.95 L187.20,462.59 L187.65,462.18 L188.10,461.17 L188.55,459.71 L189.00,458.17 L189.45,457.96 L189.90,456.90 L190.35,456.31 L190.80,456.72 L191.25,457.14 L191.70,457.23 L192.15,457.38 L192.60,457.24 L193.05,457.31 L193.50,457.01 L193.95,456.78 L194.40,456.58 L194.85,456.02 L195.30,456.03 L195.75,455.90 L196.20,455.96 L196.65,456.20 L197.10,456.30 L197.55,456.56 L198.00,456.68 L198.45,456.99 L198.90,456.58 L199.35,456.45 L199.80,456.32 L200.25,456.63 L200.70,456.81 L201.15,456.53 L201.60,456.20 L202.05,455.85 L202.50,455.09 L202.95,454.47 L203.40,454.18 L203.85,453.39 L204.30,452.82 L204.75,452.48 L205.20,451.98 L205.65,451.09 L206.10,450.54 L206.55,450.29 L207.00,449.66 L207.45,448.90 L207.90,449.59 L208.35,449.40 L208.80,449.35 L209.25,448.91 L209.70,449.35 L210.15,448.90 L210.60,448.78 L211.05,448.44 L211.50,448.68 L211.95,448.69 L212.40,448.69 L212.85,448.81 L213.30,448.74 L213.75,448.86 L214.20,448.36 L214.65,448.52 L215.10,449.34 L215.55,450.16 L216.00,450.88 L216.45,451.11 L216.90,451.04 L217.35,452.33 L217.80,453.43 L218.25,453.65 L218.70,453.94 L219.15,454.66 L219.60,455.06 L220.05,455.33 L220.50,454.85 L220.95,454.78 L221.40,454.07 L221.85,453.32 L222.30,453.37 L222.75,453.23 L223.20,452.70 L223.65,452.47 L224.10,452.02 L224.55,452.91 L225.00,452.37 L225.45,451.59 L225.90,451.58 L226.35,452.14 L226.80,452.08 L227.25,450.17 L227.70,448.46 L228.15,446.32 L228.60,444.75 L229.05,445.26 L229.50,445.96 L229.95,446.54 L230.40,447.42 L230.85,447.15 L231.30,447.74 L231.75,448.24 L232.20,447.84 L232.65,446.64 L233.10,446.27 L233.55,444.93 L234.00,444.40 L234.45,443.55 L234.90,442.60 L235.35,442.78 L235.80,442.63 L236.25,442.00 L236.70,442.32 L237.15,442.95 L237.60,442.22 L238.05,442.20 L238.50,442.65 L238.95,442.59 L239.40,443.39 L239.85,442.94 L240.30,442.23 L240.75,442.50 L241.20,443.68 L241.65,442.47 L242.10,442.16 L242.55,442.61 L243.00,442.72 L243.45,442.37 L243.90,441.71 L244.35,441.56 L244.80,442.16 L245.25,441.79 L245.70,441.07 L246.15,441.92 L246.60,441.69 L247.05,440.97 L247.50,440.68 L247.95,440.59 L248.40,439.97 L248.85,439.58 L249.30,439.95 L249.75,439.33 L250.20,439.53 L250.65,438.25 L251.10,437.95 L251.55,437.52 L252.00,437.33 L252.45,435.34 L252.90,434.15 L253.35,433.79 L253.80,433.05 L254.25,432.71 L254.70,432.76 L255.15,432.61 L255.60,432.31 L256.05,431.44 L256.50,432.62 L256.95,432.28 L257.40,430.77 L257.85,429.44 L258.30,429.75 L258.75,429.23 L259.20,427.74 L259.65,428.06 L260.10,427.69 L260.55,427.16 L261.00,427.50 L261.45,427.33 L261.90,426.35 L262.35,426.11 L262.80,425.56 L263.25,425.43 L263.70,425.84 L264.15,425.98 L264.60,425.23 L265.05,424.51 L265.50,425.41 L265.95,424.62 L266.40,425.28 L266.85,425.95 L267.30,424.92 L267.75,423.92 L268.20,423.52 L268.65,423.99 L269.10,423.00 L269.55,422.47 L270.00,421.90 L270.45,418.82 L270.90,415.39 L271.35,411.67 L271.80,407.95 L272.25,406.19 L272.70,404.97 L273.15,403.20 L273.60,405.31 L274.05,408.93 L274.50,412.63 L274.95,416.19 L275.40,418.66 L275.85,418.64 L276.30,415.73 L276.75,414.52 L277.20,412.99 L277.65,413.01 L278.10,413.35 L278.55,412.69 L279.00,411.36 L279.45,410.66 L279.90,409.03 L280.35,408.97 L280.80,408.47 L281.25,407.54 L281.70,408.38 L282.15,407.49 L282.60,407.40 L283.05,406.04 L283.50,405.62 L283.95,404.73 L284.40,402.63 L284.85,401.26 L285.30,400.28 L285.75,398.63 L286.20,396.23 L286.65,394.73 L287.10,393.57 L287.55,390.85 L288.00,390.42 L288.45,389.36 L288.90,388.96 L289.35,389.09 L289.80,389.86 L290.25,391.06 L290.70,391.23 L291.15,392.34 L291.60,392.23 L292.05,390.70 L292.50,389.17 L292.95,388.33 L293.40,386.46 L293.85,385.57 L294.30,384.48 L294.75,382.94 L295.20,382.54 L295.65,381.77 L296.10,382.23 L296.55,382.41 L297.00,383.05 L297.45,384.21 L297.90,384.88 L298.35,383.63 L298.80,384.03 L299.25,384.12 L299.70,384.96 L300.15,385.32 L300.60,385.51 L301.05,384.05 L301.50,385.43 L301.95,386.23 L302.40,387.26 L302.85,387.68 L303.30,388.46 L303.75,390.02 L304.20,389.56 L304.65,385.89 L305.10,385.39 L305.55,384.58 L306.00,383.00 L306.45,381.51 L306.90,379.82 L307.35,379.01 L307.80,378.93 L308.25,378.25 L308.70,376.77 L309.15,375.38 L309.60,374.91 L310.05,375.20 L310.50,376.15 L310.95,376.49 L311.40,376.71 L311.85,377.52 L312.30,377.30 L312.75,377.24 L313.20,376.32 L313.65,374.09 L314.10,373.46 L314.55,372.11 L315.00,372.22 L315.45,371.34 L315.90,369.90 L316.35,369.52 L316.80,369.03 L317.25,368.94 L317.70,369.22 L318.15,369.44 L318.60,368.95 L319.05,368.62 L319.50,367.90 L319.95,368.16 L320.40,367.97 L320.85,366.69 L321.30,365.91 L321.75,366.83 L322.20,366.99 L322.65,366.33 L323.10,365.88 L323.55,367.03 L324.00,367.74 L324.45,366.37 L324.90,367.93 L325.35,368.62 L325.80,369.30 L326.25,371.42 L326.70,372.52 L327.15,374.82 L327.60,374.09 L328.05,371.99 L328.50,369.69 L328.95,369.85 L329.40,372.50 L329.85,375.24 L330.30,379.88 L330.75,381.97 L331.20,379.46 L331.65,375.18 L332.10,371.47 L332.55,368.07 L333.00,365.06 L333.45,364.55 L333.90,361.58 L334.35,360.29 L334.80,360.24 L335.25,360.20 L335.70,359.78 L336.15,358.57 L336.60,358.59 L337.05,358.50 L337.50,358.50 L337.95,358.08 L338.40,357.17 L338.85,356.92 L339.30,357.51 L339.75,357.11 L340.20,358.60 L340.65,358.64 L341.10,358.57 L341.55,359.52 L342.00,360.22 L342.45,368.41 L342.90,376.64 L343.35,382.92 L343.80,390.28 L344.25,394.06 L344.70,392.51 L345.15,391.28 L345.60,390.36 L346.05,389.07 L346.50,389.46 L346.95,388.88 L347.40,389.36 L347.85,389.11 L348.30,388.25 L348.75,387.25 L349.20,385.07 L349.65,381.55 L350.10,379.87 L350.55,379.85 L351.00,379.17 L351.45,377.13 L351.90,375.90 L352.35,376.63 L352.80,381.19 L353.25,383.03 L353.70,385.52 L354.15,384.92 L354.60,384.48 L355.05,383.64 L355.50,382.61 L355.95,382.53 L356.40,381.12 L356.85,379.26 L357.30,375.90 L357.75,373.65 L358.20,372.25 L358.65,370.38 L359.10,367.37 L359.55,363.94 L360.00,361.18 L360.45,358.38 L360.90,356.73 L361.35,355.25 L361.80,357.50 L362.25,359.11 L362.70,360.91 L363.15,364.01 L363.60,366.47 L364.05,367.84 L364.50,369.53 L364.95,370.72 L365.40,368.29 L365.85,366.79 L366.30,364.16 L366.75,362.19 L367.20,361.28 L367.65,360.47 L368.10,360.27 L368.55,358.28 L369.00,357.15 L369.45,355.50 L369.90,354.03 L370.35,351.36 L370.80,349.64 L371.25,346.30 L371.70,346.42 L372.15,345.77 L372.60,344.07 L373.05,343.95 L373.50,342.94 L373.95,343.19 L374.40,342.68 L374.85,343.05 L375.30,342.28 L375.75,342.92 L376.20,342.55 L376.65,343.95 L377.10,346.60 L377.55,348.56 L378.00,350.63 L378.45,353.23 L378.90,354.69 L379.35,355.18 L379.80,357.73 L380.25,359.46 L380.70,359.57 L381.15,360.31 L381.60,360.21 L382.05,361.95 L382.50,361.73 L382.95,362.23 L383.40,363.32 L383.85,362.54 L384.30,362.39 L384.75,361.30 L385.20,361.05 L385.65,360.01 L386.10,358.99 L386.55,358.00 L387.00,355.92 L387.45,354.15 L387.90,354.67 L388.35,356.61 L388.80,359.08 L389.25,361.81 L389.70,363.61 L390.15,365.03 L390.60,366.87 L391.05,368.09 L391.50,369.84 L391.95,368.39 L392.40,365.44 L392.85,363.81 L393.30,362.56 L393.75,360.25 L394.20,358.94 L394.65,357.24 L395.10,356.80 L395.55,353.34 L396.00,352.84 L396.45,352.84 L396.90,353.80 L397.35,353.56 L397.80,354.82 L398.25,356.28 L398.70,357.96 L399.15,354.72 L399.60,350.88 L400.05,347.12 L400.50,344.24 L400.95,343.03 L401.40,341.43 L401.85,339.47 L402.30,337.28 L402.75,336.41 L403.20,340.59 L403.65,343.70 L404.10,347.69 L404.55,346.72 L405.00,343.45 L405.45,340.80 L405.90,339.38 L406.35,336.56 L406.80,333.60 L407.25,332.62 L407.70,334.50 L408.15,335.64 L408.60,336.05 L409.05,335.74 L409.50,336.44 L409.95,337.65 L410.40,339.11 L410.85,338.66 L411.30,338.65 L411.75,338.14 L412.20,338.23 L412.65,337.21 L413.10,337.76 L413.55,337.21 L414.00,336.68 L414.45,336.39 L414.90,335.62 L415.35,333.40 L415.80,333.78 L416.25,333.52 L416.70,332.93 L417.15,333.50 L417.60,332.88 L418.05,332.94 L418.50,331.63 L418.95,331.26 L419.40,332.45 L419.85,332.90 L420.30,331.94 L420.75,331.55 L421.20,330.45 L421.65,329.72 L422.10,330.38 L422.55,331.00 L423.00,329.14 L423.45,329.20 L423.90,328.62 L424.35,329.69 L424.80,330.05 L425.25,328.83 L425.70,329.19 L426.15,330.09 L426.60,329.17 L427.05,328.14 L427.50,327.73 L427.95,327.63 L428.40,329.72 L428.85,330.02 L429.30,331.55 L429.75,333.27 L430.20,336.43 L430.65,340.61 L431.10,345.49 L431.55,349.42 L432.00,353.29 L432.45,356.59 L432.90,361.84 L433.35,364.33 L433.80,361.36 L434.25,360.28 L434.70,359.31 L435.15,358.07 L435.60,354.31 L436.05,351.54 L436.50,351.02 L436.95,348.05 L437.40,346.46 L437.85,344.95 L438.30,344.27 L438.75,344.66 L439.20,343.62 L439.65,343.07 L440.10,343.18 L440.55,344.06 L441.00,344.28 L441.45,346.01 L441.90,347.25 L442.35,348.33 L442.80,348.74 L443.25,350.38 L443.70,351.66 L444.15,351.33 L444.60,349.51 L445.05,347.50 L445.50,346.48 L445.95,344.56 L446.40,344.30 L446.85,344.64 L447.30,344.48 L447.75,346.07 L448.20,346.44 L448.65,346.67 L449.10,347.36 L449.55,348.17 L450.00,348.04 L450.45,348.08 L450.90,348.98 L451.35,347.56 L451.80,346.41 L452.25,345.42 L452.70,345.14 L453.15,342.46 L453.60,340.48 L454.05,338.81 L454.50,337.45 L454.95,339.83 L455.40,341.34 L455.85,342.73 L456.30,343.03 L456.75,343.27 L457.20,344.07 L457.65,343.96 L458.10,343.96 L458.55,345.21 L459.00,345.45 L459.45,345.47 L459.90,345.61 L460.35,347.29 L460.80,348.02 L461.25,348.26 L461.70,348.32 L462.15,348.54 L462.60,349.38 L463.05,350.15 L463.50,350.43 L463.95,349.88 L464.40,349.09 L464.85,348.84 L465.30,348.05 L465.75,344.66 L466.20,341.88 L466.65,338.51 L467.10,335.71 L467.55,333.55 L468.00,331.70 L468.45,332.33 L468.90,336.04 L469.35,337.75 L469.80,341.28 L470.25,343.76 L470.70,346.46 L471.15,348.00 L471.60,340.62 L472.05,329.36 L472.50,316.30 L472.95,295.00 L473.40,279.11 L473.85,266.77 L474.30,257.44 L474.75,255.42 L475.20,255.84 L475.65,255.52 L476.10,258.89 L476.55,263.72 L477.00,267.58 L477.45,271.29 L477.90,275.95 L478.35,279.20 L478.80,284.26 L479.25,290.16 L479.70,293.38 L480.15,291.31 L480.60,291.84 L481.05,291.80 L481.50,289.18 L481.95,289.01 L482.40,290.59 L482.85,289.95 L483.30,291.14 L483.75,291.17 L484.20,290.44 L484.65,292.77 L485.10,293.63 L485.55,295.49 L486.00,297.20 L486.45,296.48 L486.90,295.88 L487.35,296.91 L487.80,297.03 L488.25,296.68 L488.70,294.00 L489.15,293.08 L489.60,292.49 L490.05,294.35 L490.50,294.30 L490.95,294.28 L491.40,294.80 L491.85,295.46 L492.30,295.53 L492.75,295.02 L493.20,294.40 L493.65,295.09 L494.10,293.65 L494.55,291.82 L495.00,291.81 L495.45,293.78 L495.90,293.79 L496.35,293.91 L496.80,294.35 L497.25,294.59 L497.70,292.12 L498.15,290.75 L498.60,289.30 L499.05,290.69 L499.50,289.91 L499.95,288.28 L500.40,287.28 L500.85,287.44 L501.30,285.83 L501.75,284.50 L502.20,284.45 L502.65,281.41 L503.10,280.50 L503.55,282.56 L504.00,279.58 L504.45,281.17 L504.90,284.43 L505.35,288.68 L505.80,293.26 L506.25,296.23 L506.70,298.11 L507.15,299.30 L507.60,300.36 L508.05,303.77 L508.50,306.94 L508.95,306.73 L509.40,304.66 L509.85,304.09 L510.30,302.23 L510.75,301.29 L511.20,299.84 L511.65,299.97 L512.10,299.93 L512.55,299.39 L513.00,300.02 L513.45,300.73 L513.90,299.73 L514.35,297.82 L514.80,296.93 L515.25,296.88 L515.70,297.21 L516.15,298.59 L516.60,299.48 L517.05,299.49 L517.50,299.61 L517.95,299.52 L518.40,297.87 L518.85,296.55 L519.30,298.02 L519.75,297.19 L520.20,297.30 L520.65,299.00 L521.10,300.87 L521.55,303.21 L522.00,302.20 L522.45,299.53 L522.90,296.96 L523.35,294.86 L523.80,292.67 L524.25,290.53 L524.70,288.68 L525.15,286.63 L525.60,284.40 L526.05,286.11 L526.50,288.73 L526.95,287.97 L527.40,289.96 L527.85,293.51 L528.30,295.64 L528.75,298.42 L529.20,303.13 L529.65,306.23 L530.10,309.79 L530.55,308.83 L531.00,306.49 L531.45,303.63 L531.90,301.86 L532.35,300.52 L532.80,298.61 L533.25,297.98 L533.70,301.95 L534.15,304.74 L534.60,310.96 L535.05,316.14 L535.50,318.11 L535.95,319.86 L536.40,317.36 L536.85,313.86 L537.30,312.06 L537.75,308.96 L538.20,304.87 L538.65,303.54 L539.10,302.73 L539.55,300.96 L540.00,299.59 L540.45,300.49 L540.90,302.12 L541.35,304.08 L541.80,307.16 L542.25,310.63 L542.70,311.81 L543.15,313.29 L543.60,314.05 L544.05,313.04 L544.50,313.32 L544.95,313.09 L545.40,314.08 L545.85,313.27 L546.30,310.07 L546.75,309.15 L547.20,308.75 L547.65,307.07 L548.10,306.08" fill="none" stroke="#8c1d04" stroke-width="1.75" stroke-linejoin="round" stroke-linecap="round"/>
<line x1="996.2" y1="388.9" x2="198" y2="466.1" stroke="#b06cf5" stroke-width="2.2" stroke-linecap="round" stroke-dasharray="0.2 3.62"/>
<line x1="547" y1="423" x2="997.5" y2="348.3" stroke="#23b2f4" stroke-width="2.3" stroke-linecap="round"/>
<line x1="547" y1="423" x2="997.5" y2="284.6" stroke="#6fd318" stroke-width="2.3" stroke-linecap="round"/>
<line x1="547" y1="423" x2="997.5" y2="201.5" stroke="#ffc61e" stroke-width="2.3" stroke-linecap="round"/>
<path d="M98.9,466.30 L102.9,466.30 L106.9,466.30 L110.9,466.30 L114.9,466.30 L118.9,466.30 L122.9,466.30 L126.9,466.30 L130.9,466.30 L134.9,466.30 L138.9,466.30 L142.9,466.30 L146.9,466.30 L150.9,466.30 L154.9,466.30 L158.9,466.29 L162.9,466.27 L166.9,466.25 L170.9,466.23 L174.9,466.21 L178.9,466.18 L182.9,466.15 L186.9,466.12 L190.9,466.09 L194.9,466.06 L198.9,466.03 L202.9,465.98 L206.9,465.94 L210.9,465.89 L214.9,465.84 L218.9,465.78 L222.9,465.72 L226.9,465.65 L230.9,465.58 L234.9,465.51 L238.9,465.43 L242.9,465.34 L246.9,465.24 L250.9,465.12 L254.9,465.00 L258.9,464.86 L262.9,464.71 L266.9,464.54 L270.9,464.33 L274.9,464.05 L278.9,463.70 L282.9,463.32 L286.9,462.91 L290.9,462.51 L294.9,462.06 L298.9,461.58 L302.9,461.07 L306.9,460.58 L310.9,460.08 L314.9,459.58 L318.9,459.08 L322.9,458.57 L326.9,458.05 L330.9,457.53 L334.9,457.00 L338.9,456.47 L342.9,455.95 L346.9,455.44 L350.9,454.93 L354.9,454.44 L358.9,453.95 L362.9,453.46 L366.9,452.97 L370.9,452.49 L374.9,452.01 L378.9,451.52 L382.9,451.00 L386.9,450.44 L390.9,449.82 L394.9,449.18 L398.9,448.56 L402.9,448.00 L406.9,447.47 L410.9,446.95 L414.9,446.41 L418.9,445.85 L422.9,445.27 L426.9,444.71 L430.9,444.19 L434.9,443.72 L438.9,443.28 L442.9,442.84 L446.9,442.39 L450.9,441.95 L454.9,441.50 L458.9,440.97 L462.9,440.32 L466.9,439.49 L470.9,438.60 L474.9,437.72 L478.9,436.83 L482.9,435.94 L486.9,435.06 L490.9,434.21 L494.9,433.39 L498.9,432.59 L502.9,431.80 L506.9,431.02 L510.9,430.22 L514.9,429.42 L518.9,428.62 L522.9,427.82 L526.9,427.02 L530.9,426.22 L534.9,425.42 L538.9,424.62 L542.9,423.82 L546.9,423.02 L547.0,423.00" fill="none" stroke="#111" stroke-width="2.3" stroke-linecap="round" stroke-linejoin="round"/>
<text x="196.7" y="295.0" font-size="21.6" fill="#1f2a2e" textLength="218.3" lengthAdjust="spacingAndGlyphs">Ordinals Launch (2023)</text>
<text x="593.5" y="249.2" font-size="21.6" fill="#1f2a2e" textLength="148" lengthAdjust="spacingAndGlyphs">Falling Demand</text>
<line x1="421.7" y1="289" x2="461.5" y2="328.5" stroke="#161616" stroke-width="1.2"/>
<path d="M463.4,330.4 L457.4,328.2 L461.2,324.4 Z" fill="#111"/>
<line x1="587.9" y1="245.6" x2="549" y2="284" stroke="#161616" stroke-width="1.2"/>
<path d="M547,286 L549.2,280 L553,283.8 Z" fill="#111"/>
<text x="27.8" y="524.9" font-size="16.4" font-style="italic" fill="#5f6872" textLength="226.8" lengthAdjust="spacingAndGlyphs">Source: Fidelity Digital Assets</text>
<text x="255.2" y="520.6" font-size="11" font-style="italic" fill="#5f6872" textLength="9" lengthAdjust="spacingAndGlyphs">®</text>
<text x="269.4" y="524.9" font-size="16.4" font-style="italic" fill="#5f6872" textLength="264" lengthAdjust="spacingAndGlyphs">Research via Glassnode, 11/14/25.</text>
</svg></body></html>
